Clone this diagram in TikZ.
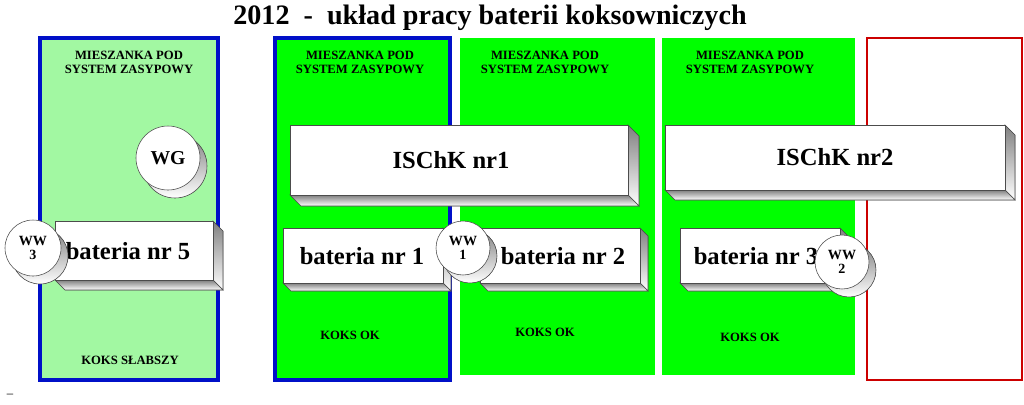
\documentclass[tikz,border=0pt]{standalone}
\usepackage{fontspec}
\setmainfont{Liberation Serif}
\definecolor{lightgr}{HTML}{A2F8A2}
\definecolor{brightgr}{HTML}{00FF00}
\definecolor{darkblue}{HTML}{0010C8}
\definecolor{shade}{HTML}{D8D8D8}
\tikzset{
  panel/.style={fill=#1, draw=none},
  headtxt/.style={font=\bfseries\fontsize{9}{10}\selectfont, align=center},
  foottxt/.style={font=\bfseries\fontsize{9}{10}\selectfont},
  boxtxt/.style={font=\bfseries\fontsize{17.5}{18}\selectfont},
  disc/.style={circle, draw=black!70, fill=white, inner sep=0pt, align=center,
    font=\bfseries\fontsize{10}{10}\selectfont}
}
% 3D slab: front face (#1,#2)-(#3,#4), depth #5
\newcommand{\slab}[5]{
  \fill[shade, draw=black!70] (#3,#2) -- (#3+#5,#2+#5) -- (#3+#5,#4+#5) -- (#3,#4) -- cycle;
  \fill[shade, draw=black!70] (#1,#4) -- (#1+#5,#4+#5) -- (#3+#5,#4+#5) -- (#3,#4) -- cycle;
  \draw[fill=white, draw=black!70] (#1,#2) rectangle (#3,#4);
}
\begin{document}
\begin{tikzpicture}[x=0.025cm, y=-0.025cm]
  \useasboundingbox (0,0) rectangle (1024,404);
  % panels
  \fill[panel=lightgr] (40,38) rectangle (218,380);
  \draw[darkblue, line width=2.5pt] (40,38) rectangle (218,380);
  \fill[panel=brightgr] (275,38) rectangle (450,380);
  \draw[darkblue, line width=2.5pt] (275,38) rectangle (450,380);
  \fill[panel=brightgr] (460,38) rectangle (655,375);
  \fill[panel=brightgr] (662,38) rectangle (855,375);
  \draw[red!80!black, line width=1pt] (867,38) rectangle (1022,380);
  \node (title) at (490,18) {\bfseries\fontsize{20}{22}\selectfont 2012\ \ -\ \ układ pracy baterii koksowniczych};
  \node (dash) at (10,396) {\fontsize{9}{9}\selectfont –};
  % headers and footers
  \node[headtxt] (h5) at (129,62) {MIESZANKA POD\\SYSTEM ZASYPOWY};
  \node[headtxt] (h1) at (360,62) {MIESZANKA POD\\SYSTEM ZASYPOWY};
  \node[headtxt] (h2) at (545,62) {MIESZANKA POD\\SYSTEM ZASYPOWY};
  \node[headtxt] (h3) at (750,62) {MIESZANKA POD\\SYSTEM ZASYPOWY};
  \node[foottxt] (f5) at (130,360) {KOKS SŁABSZY};
  \node[foottxt] (f1) at (350,335) {KOKS OK};
  \node[foottxt] (f2) at (545,332) {KOKS OK};
  \node[foottxt] (f3) at (750,337) {KOKS OK};
  % slabs
  \slab{290}{125}{628}{195}{11}
  \node[boxtxt] (ischk1) at (451,160) {ISChK nr1};
  \slab{665}{125}{1005}{190}{10}
  \node[boxtxt] (ischk2) at (835,157) {ISChK nr2};
  \slab{55}{221}{213}{280}{10}
  \node[boxtxt] (bat5) at (128,251) {bateria nr 5};
  \slab{283}{228}{443}{283}{8}
  \node[boxtxt] (bat1) at (362,256) {bateria nr 1};
  \slab{480}{228}{640}{283}{8}
  \node[boxtxt] (bat2) at (563,256) {bateria nr 2};
  \slab{680}{228}{840}{283}{8}
  \node[boxtxt] (bat3) at (756,256) {bateria nr 3};
  % discs
  \foreach \nm/\x/\y/\r/\t in {wg/168/158/32/{\fontsize{14}{14}\selectfont WG},
      ww3/33/248/28/{WW\\3}, ww1/463/248/27/{WW\\1}, ww2/842/262/27/{WW\\2}} {
    \fill[shade, draw=black!70] (\x+7,\y+8) circle[radius=\r];
    \node[disc, minimum size=2*\r*0.025cm] (\nm) at (\x,\y) {\t};
  }
\end{tikzpicture}
\end{document}
